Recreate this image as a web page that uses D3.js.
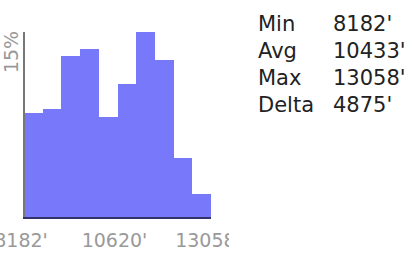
<!DOCTYPE html>
<html>
<head>
<meta charset="utf-8">
<script src="https://cdn.jsdelivr.net/npm/d3@7"></script>
<style>
body { margin: 0; background: #fff; }
text { font-family: "DejaVu Sans", sans-serif; }
</style>
</head>
<body>
<svg id="main" width="414" height="260"></svg>
<script>
// histogram of elevation, 10 bins between min and max
var binPct = [8.67, 9.05, 13.39, 14.03, 8.34, 11.08, 15.40, 13.06, 4.98, 2.01];
var minElev = 8182, maxElev = 13058;
var tickVals = [8182, 10620, 13058];
var yTick = 15;
var statNames = ["Min", "Avg", "Max", "Delta"];
var statVals = ["8182'", "10433'", "13058'", "4875'"];

var svg = d3.select("#main");

// the chart image is narrower than its last label, so it gets cut
svg.append("clipPath").attr("id", "clip")
  .append("rect").attr("x", 0).attr("y", 0).attr("width", 229).attr("height", 260);

var g = svg.append("g").attr("clip-path", "url(#clip)");

var x = d3.scaleLinear().domain([minElev, maxElev]).range([24, 211]);
var y = d3.scaleLinear().domain([0, d3.max(binPct)]).range([218, 32]);
var binW = (maxElev - minElev) / binPct.length;

g.selectAll("rect.bar").data(binPct).enter().append("rect")
  .attr("class", "bar")
  .attr("x", function(d, i){ return x(minElev + i * binW); })
  .attr("width", function(d, i){ return x(minElev + (i + 1) * binW) - x(minElev + i * binW); })
  .attr("y", function(d){ return y(d); })
  .attr("height", function(d){ return y(0) - y(d); })
  .attr("fill", "#7878fa")
  .attr("shape-rendering", "crispEdges");

// y axis line
g.append("line")
  .attr("x1", 24).attr("x2", 24)
  .attr("y1", y(0) + 1).attr("y2", y.range()[1])
  .attr("stroke", "#777").attr("stroke-width", 2);

// x axis line
g.append("line")
  .attr("x1", 23).attr("x2", 211)
  .attr("y1", y(0)).attr("y2", y(0))
  .attr("stroke", "#33336a").attr("stroke-width", 2);

g.append("text")
  .attr("transform", "translate(18," + (y(yTick) - 6) + ") rotate(-90)")
  .attr("text-anchor", "end")
  .attr("font-size", 19)
  .attr("fill", "#999")
  .text(yTick + "%");

g.selectAll("text.tick").data(tickVals).enter().append("text")
  .attr("class", "tick")
  .attr("x", function(d){ return x(d) - 3; })
  .attr("y", 247)
  .attr("text-anchor", "middle")
  .attr("font-size", 19)
  .attr("fill", "#999")
  .text(function(d){ return d + "'"; });

// stats table
var st = svg.append("g");
st.selectAll("text.name").data(statNames).enter().append("text")
  .attr("class", "name")
  .attr("x", 258)
  .attr("y", function(d, i){ return 31 + i * 27; })
  .attr("font-size", 21)
  .attr("fill", "#222")
  .text(function(d){ return d; });
st.selectAll("text.val").data(statVals).enter().append("text")
  .attr("class", "val")
  .attr("x", 333)
  .attr("y", function(d, i){ return 31 + i * 27; })
  .attr("font-size", 21)
  .attr("fill", "#222")
  .text(function(d){ return d; });
</script>
</body>
</html>
